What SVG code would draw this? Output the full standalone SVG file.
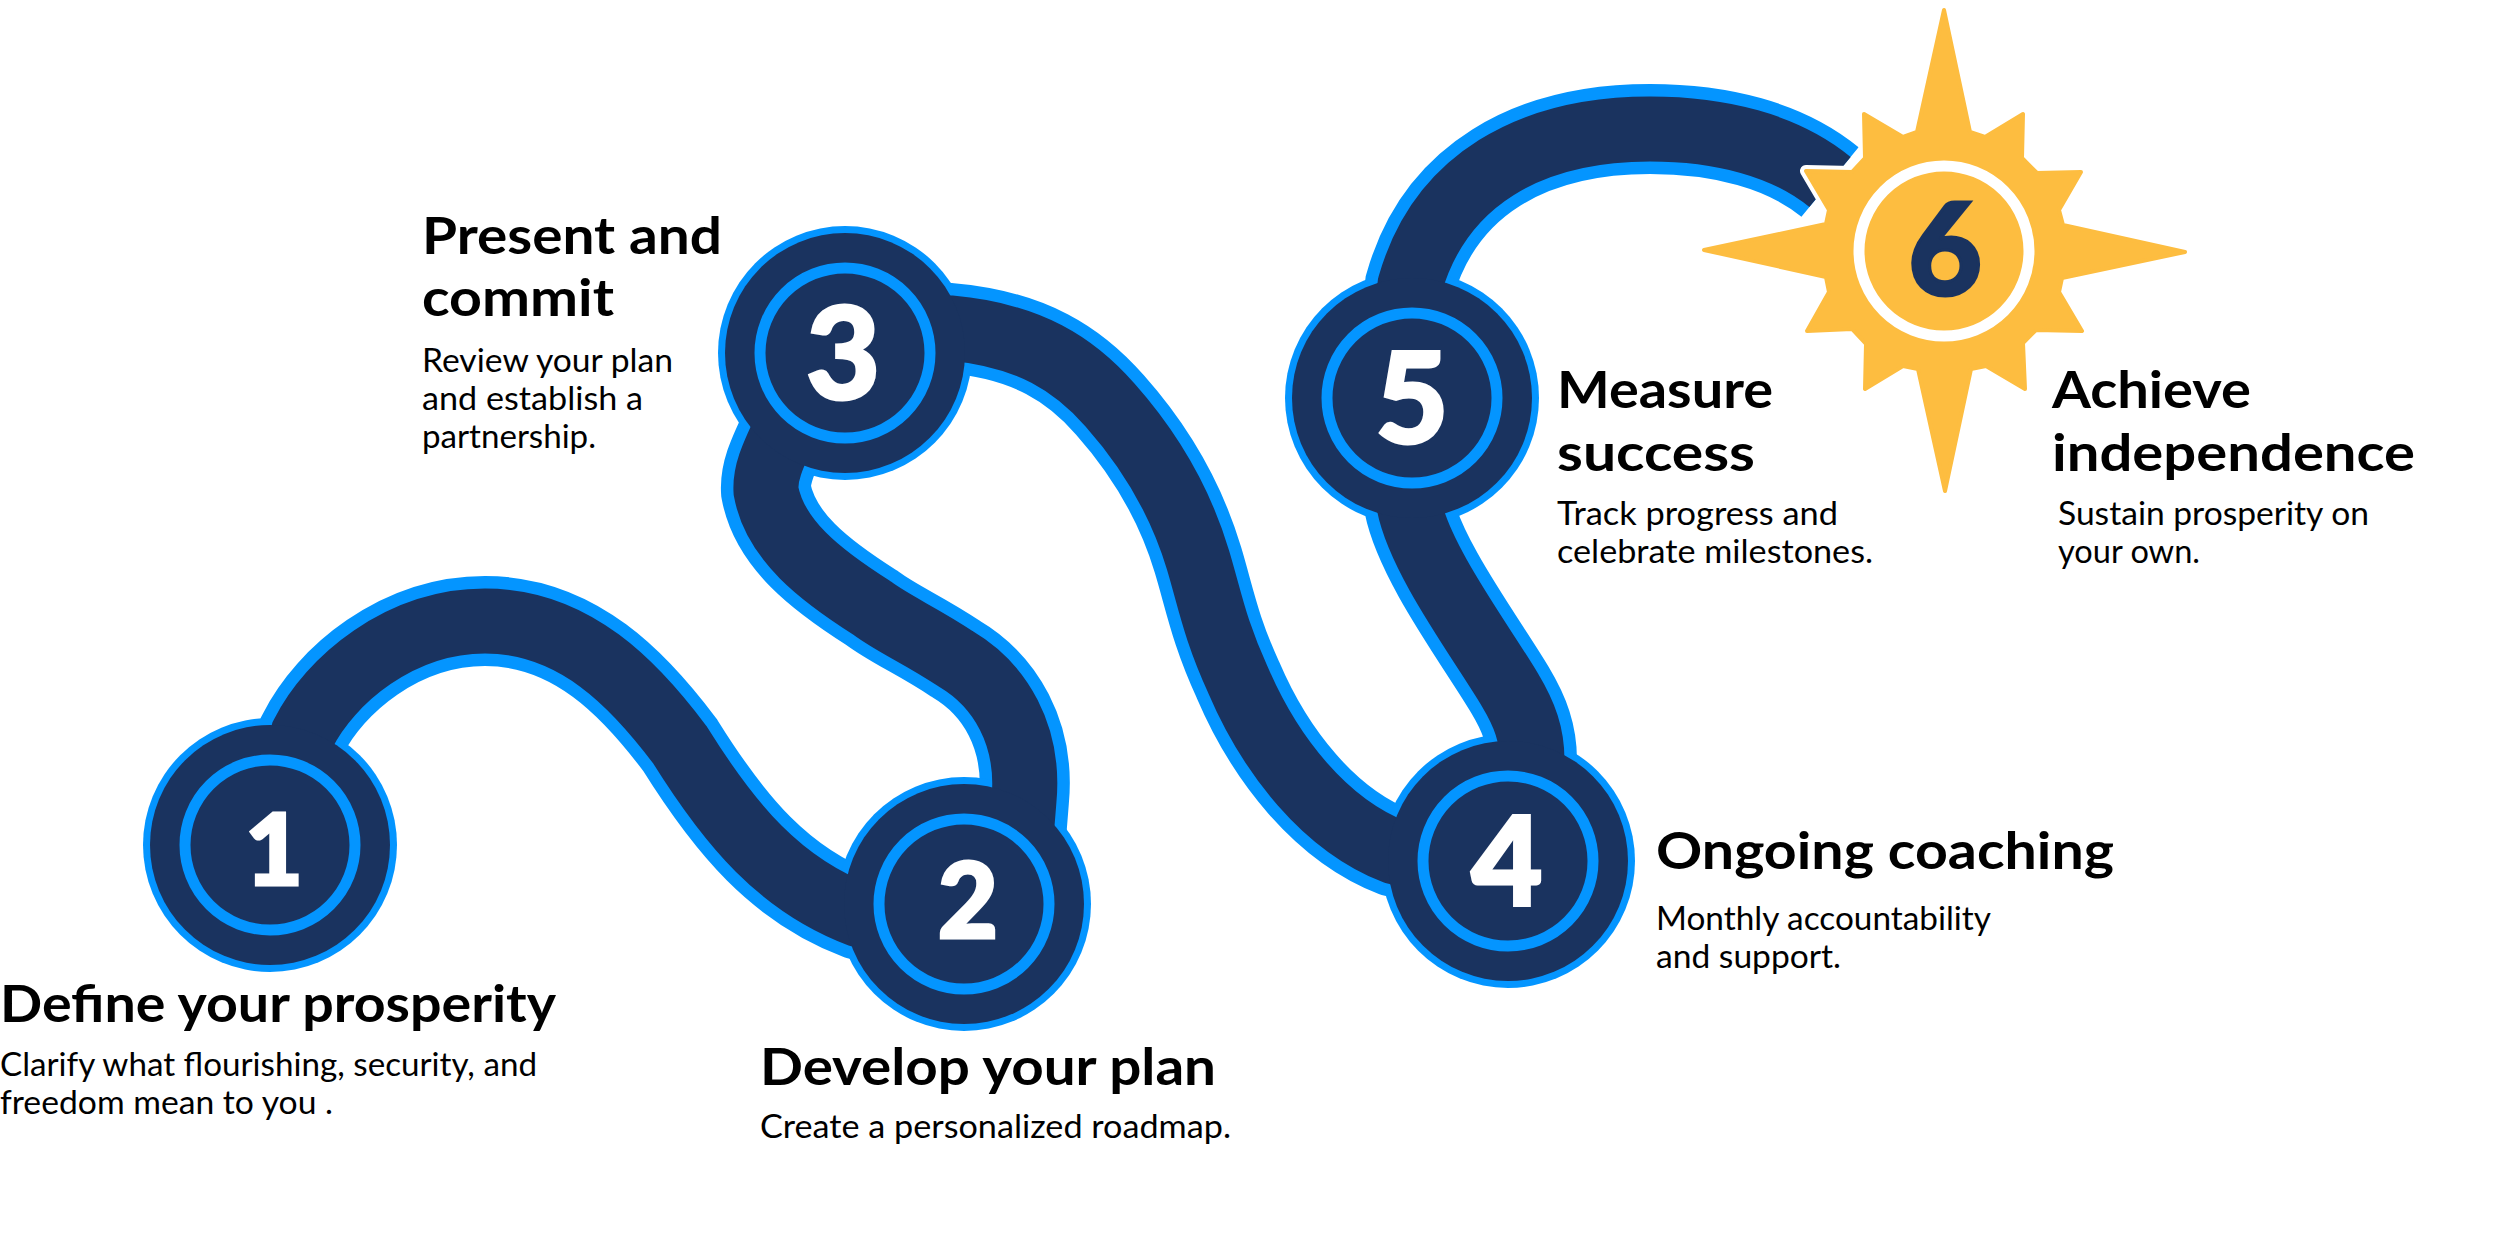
<svg xmlns="http://www.w3.org/2000/svg" width="2500" height="1255" viewBox="0 0 2500 1255">
<style>
.halo{fill:none;stroke:#0495FF;stroke-width:90}
.road{fill:none;stroke:#1A335F;stroke-width:65}
.outline{fill:#0495FF}
.disc{fill:#1A335F}
.ring{fill:none;stroke:#0495FF;stroke-width:11}
.num{font-family:Lato,"Liberation Sans",sans-serif;font-weight:900;fill:#fff;stroke:#fff;stroke-width:3;text-anchor:middle}
.h{font-family:Lato,"Open Sans",sans-serif;font-weight:700;font-size:52px;fill:#000}
.b{font-family:Lato,"Open Sans",sans-serif;font-weight:400;font-size:32px;fill:#000}
</style>
<defs>
<path id="p12" d="M285,800 L303,734 C330,680 400,621 485,621 C575,621 635,685 680,745 C730,825 780,885 860,915 L920,930"/>
<path id="p23" d="M1020,850 L1024,800 C1030,735 1000,685 956,659 C920,635 895,625 872,608 C820,575 775,540 766,491 C765,475 770,460 790,420"/>
<path id="p34" d="M880,328 L950,328 C1030,335 1075,365 1110,405 C1150,450 1180,500 1198,560 C1210,600 1215,630 1238,680 C1270,755 1325,825 1395,852 L1450,865"/>
<path id="p45" d="M1405,470 L1409,505 C1420,560 1480,640 1510,690 C1525,715 1532,735 1532,760 L1530,800"/>
<path id="p56" d="M1405,330 L1410,285 C1440,180 1530,129 1650,129 C1720,129 1785,145 1830,182"/>
</defs>
<rect width="2500" height="1255" fill="#fff"/>
<g id="connector-outlines">
<use href="#p12" class="halo"/><use href="#p23" class="halo"/><use href="#p34" class="halo"/><use href="#p45" class="halo"/><use href="#p56" class="halo"/>
</g>
<g id="node-outlines">
<circle class="outline" cx="270" cy="845" r="127"/><circle class="outline" cx="964" cy="904" r="127"/><circle class="outline" cx="845" cy="353" r="127"/><circle class="outline" cx="1508" cy="861" r="127"/><circle class="outline" cx="1412" cy="398" r="127"/>
</g>
<g id="connectors">
<use href="#p12" class="road"/><use href="#p23" class="road"/><use href="#p34" class="road"/><use href="#p45" class="road"/><use href="#p56" class="road"/>
</g>
<g id="node1"><circle class="disc" cx="270" cy="845" r="120"/><circle class="ring" cx="270" cy="845" r="85"/><text class="num" x="274" y="885" font-size="100">1</text>
<text class="h" x="0" y="1022" textLength="556" lengthAdjust="spacingAndGlyphs">Define your prosperity</text>
<text class="b" x="0" y="1076" textLength="537" lengthAdjust="spacingAndGlyphs">Clarify what flourishing, security, and</text>
<text class="b" x="0" y="1114" textLength="333" lengthAdjust="spacingAndGlyphs">freedom mean to you .</text></g>
<g id="node2"><circle class="disc" cx="964" cy="904" r="120"/><circle class="ring" cx="964" cy="904" r="85"/><text class="num" x="968" y="938" font-size="104">2</text>
<text class="h" x="760" y="1085" textLength="456" lengthAdjust="spacingAndGlyphs">Develop your plan</text>
<text class="b" x="760" y="1138" textLength="471" lengthAdjust="spacingAndGlyphs">Create a personalized roadmap.</text></g>
<g id="node3"><circle class="disc" cx="845" cy="353" r="120"/><circle class="ring" cx="845" cy="353" r="85"/><text class="num" x="843" y="399" font-size="128">3</text>
<text class="h" x="422" y="254" textLength="300" lengthAdjust="spacingAndGlyphs">Present and</text>
<text class="h" x="422" y="316" textLength="192" lengthAdjust="spacingAndGlyphs">commit</text>
<text class="b" x="422" y="372" textLength="251" lengthAdjust="spacingAndGlyphs">Review your plan</text>
<text class="b" x="422" y="410" textLength="221" lengthAdjust="spacingAndGlyphs">and establish a</text>
<text class="b" x="422" y="448" textLength="174" lengthAdjust="spacingAndGlyphs">partnership.</text></g>
<g id="node4"><circle class="disc" cx="1508" cy="861" r="120"/><circle class="ring" cx="1508" cy="861" r="85"/><text class="num" x="1507" y="905" font-size="123">4</text>
<text class="h" x="1656" y="869" textLength="458" lengthAdjust="spacingAndGlyphs">Ongoing coaching</text>
<text class="b" x="1656" y="930" textLength="335" lengthAdjust="spacingAndGlyphs">Monthly accountability</text>
<text class="b" x="1656" y="968" textLength="185" lengthAdjust="spacingAndGlyphs">and support.</text></g>
<g id="node5"><circle class="disc" cx="1412" cy="398" r="120"/><circle class="ring" cx="1412" cy="398" r="85"/><text class="num" x="1412" y="443" font-size="126">5</text>
<text class="h" x="1557" y="408" textLength="216" lengthAdjust="spacingAndGlyphs">Measure</text>
<text class="h" x="1557" y="471" textLength="198" lengthAdjust="spacingAndGlyphs">success</text>
<text class="b" x="1557" y="525" textLength="281" lengthAdjust="spacingAndGlyphs">Track progress and</text>
<text class="b" x="1557" y="563" textLength="316" lengthAdjust="spacingAndGlyphs">celebrate milestones.</text></g>
<g id="node6">
<polygon fill="#FDBD40" stroke="#fff" stroke-width="12" stroke-linejoin="round" points="1944,10 1970,132 1985,137 2023,114 2022,158 2037,173 2081,172 2059,210 2063,225 2185,252 2062,278 2059,292 2082,331 2036,330 2023,343 2025,389 1986,366 1971,369 1945,491 1918,369 1903,366 1865,389 1866,344 1852,329 1807,331 1829,292 1826,277 1704,250 1826,224 1829,210 1806,171 1852,172 1865,158 1864,114 1903,137 1917,132"/>
<polygon fill="#FDBD40" stroke="#FDBD40" stroke-width="4" stroke-linejoin="round" points="1944,10 1970,132 1985,137 2023,114 2022,158 2037,173 2081,172 2059,210 2063,225 2185,252 2062,278 2059,292 2082,331 2036,330 2023,343 2025,389 1986,366 1971,369 1945,491 1918,369 1903,366 1865,389 1866,344 1852,329 1807,331 1829,292 1826,277 1704,250 1826,224 1829,210 1806,171 1852,172 1865,158 1864,114 1903,137 1917,132"/>
<circle cx="1944" cy="251" r="85" fill="none" stroke="#fff" stroke-width="11"/>
<text class="num" x="1945" y="295" font-size="128" style="fill:#1A335F;stroke:#1A335F">6</text>
<text class="h" x="2052" y="408" textLength="199" lengthAdjust="spacingAndGlyphs">Achieve</text>
<text class="h" x="2052" y="471" textLength="363" lengthAdjust="spacingAndGlyphs">independence</text>
<text class="b" x="2058" y="525" textLength="311" lengthAdjust="spacingAndGlyphs">Sustain prosperity on</text>
<text class="b" x="2058" y="563" textLength="142" lengthAdjust="spacingAndGlyphs">your own.</text></g>
</svg>
